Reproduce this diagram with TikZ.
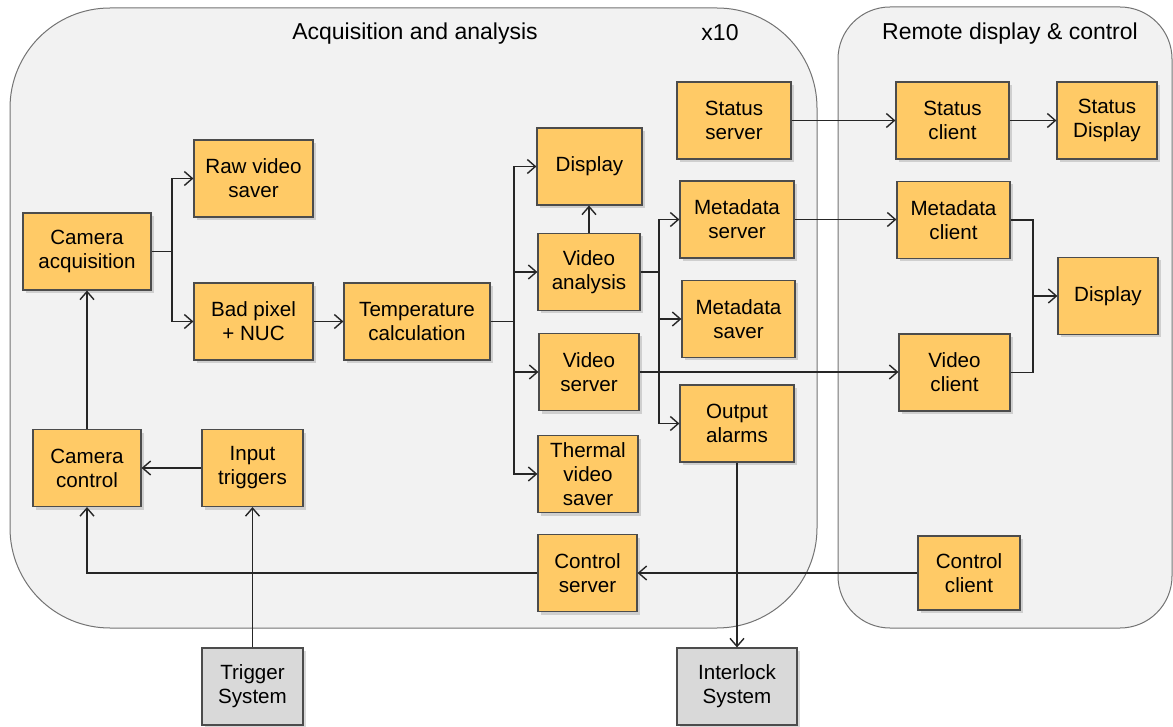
\documentclass[tikz,border=0pt]{standalone}
\usepackage{fontspec}
\setmainfont{Liberation Sans}
\usetikzlibrary{arrows.meta,shadows}
\definecolor{panelgray}{HTML}{F2F2F2}
\definecolor{boxyellow}{HTML}{FFCA66}
\definecolor{boxgray}{HTML}{D9D9D9}
\tikzset{
  panel/.style={draw=black!55, fill=panelgray, line width=0.5pt},
  title/.style={font=\fontsize{11.5}{13}\selectfont},
  blk/.style={draw=black!70, fill=boxyellow, line width=0.6pt, minimum width=#1,
    minimum height=38.5pt, align=center, inner sep=1pt, font=\fontsize{10.3}{12}\selectfont,
    drop shadow={shadow xshift=1.5pt, shadow yshift=-1.5pt, opacity=0.3}},
  ext/.style={blk=#1, fill=boxgray},
  link/.style={draw=black!85, line width=0.7pt},
  arr/.style={link, -{Straight Barb[length=4pt,width=7pt]}},
}
\begin{document}
\begin{tikzpicture}[x=0.5pt, y=-0.5pt]
      \useasboundingbox (0,0) rectangle (1173,727);
      % the two panels
      \draw[panel, rounded corners=50pt] (10,8) rectangle (817,628);
      \draw[panel, rounded corners=26pt] (838,7) rectangle (1172,628);
      \node[title] (ttlacq) at (415,34) {Acquisition and analysis};
      \node[title] (ttlx) at (720,33) {x10};
      \node[title] (ttlrem) at (1010,34) {Remote display \& control};
      % blocks
      \draw
        (87,251.5) node[blk=64pt] (camacq) {Camera\\acquisition}
        (253.5,178.5) node[blk=59.5pt] (rawsave) {Raw video\\saver}
        (253.5,321.5) node[blk=59.5pt] (badpix) {Bad pixel\\+ NUC}
        (417,321.5) node[blk=73pt] (tempcalc) {Temperature\\calculation}
        (589.5,166.5) node[blk=52.5pt] (disp) {Display}
        (589,272) node[blk=51pt] (vidana) {Video\\analysis}
        (589,372) node[blk=50pt] (vidsrv) {Video\\server}
        (588,474) node[blk=50pt] (thermsave) {Thermal\\video\\saver}
        (734,120.5) node[blk=57pt] (statsrv) {Status\\server}
        (737,219.5) node[blk=57pt] (metasrv) {Metadata\\server}
        (738.5,319) node[blk=56.5pt] (metasave) {Metadata\\saver}
        (737,423.5) node[blk=57pt] (alarms) {Output\\alarms}
        (587.5,573) node[blk=49.5pt] (ctrlsrv) {Control\\server}
        (87,468) node[blk=54pt] (camctrl) {Camera\\control}
        (252.5,468) node[blk=50.5pt] (inptrig) {Input\\triggers}
        (252.5,686.5) node[ext=50.5pt] (trigsys) {Trigger\\System}
        (737,686.5) node[ext=60pt] (interlock) {Interlock\\System}
        (952.5,120.5) node[blk=56.5pt] (statcli) {Status\\client}
        (1107,120.5) node[blk=50pt] (statdisp) {Status\\Display}
        (953.5,220) node[blk=56.5pt] (metacli) {Metadata\\client}
        (1108,296) node[blk=50pt] (rdisp) {Display}
        (954.5,372.5) node[blk=55.5pt] (vidcli) {Video\\client}
        (969,573) node[blk=51pt, minimum height=37pt] (ctrlcli) {Control\\client};
      % junctions
      \coordinate (jacq) at (172,251.5);
      \coordinate (jtemp) at (514,321.5);
      \coordinate (jana) at (659,272);
      \coordinate (jrem) at (1033,296);
      \begin{scope}[link]
        \draw (camacq.east) -- (jacq);
        \draw (tempcalc.east) -- (jtemp);
        \draw (vidana.east) -- (jana);
        \draw (metacli.east) -| (jrem) |- (vidcli.east);
      \end{scope}
      \begin{scope}[arr]
        \draw (jacq) |- (rawsave.west);
        \draw (jacq) |- (badpix.west);
        \draw (badpix.east) -- (tempcalc.west);
        \draw (jtemp) |- (disp.west);
        \draw (jtemp) |- (vidana.west);
        \draw (jtemp) |- (vidsrv.west);
        \draw (jtemp) |- (thermsave.west);
        \draw (vidana.north) -- (vidana.north |- disp.south);
        \draw (jana) |- (metasrv.west);
        \draw (jana) |- (metasave.west);
        \draw (jana) |- (alarms.west);
        \draw (vidsrv.east) -- (vidsrv.east -| vidcli.west);
        \draw (statsrv.east) -- (statcli.west);
        \draw (statcli.east) -- (statdisp.west);
        \draw (metasrv.east) -- (metasrv.east -| metacli.west);
        \draw (jrem) -- (rdisp.west);
        \draw (alarms.south) -- (interlock.north);
        \draw (ctrlcli.west) -- (ctrlsrv.east);
        \draw (ctrlsrv.west) -| (camctrl.south);
        \draw (trigsys.north) -- (inptrig.south);
        \draw (inptrig.west) -- (camctrl.east);
        \draw (camctrl.north) -- (camacq.south);
      \end{scope}
    \end{tikzpicture}
\end{document}
